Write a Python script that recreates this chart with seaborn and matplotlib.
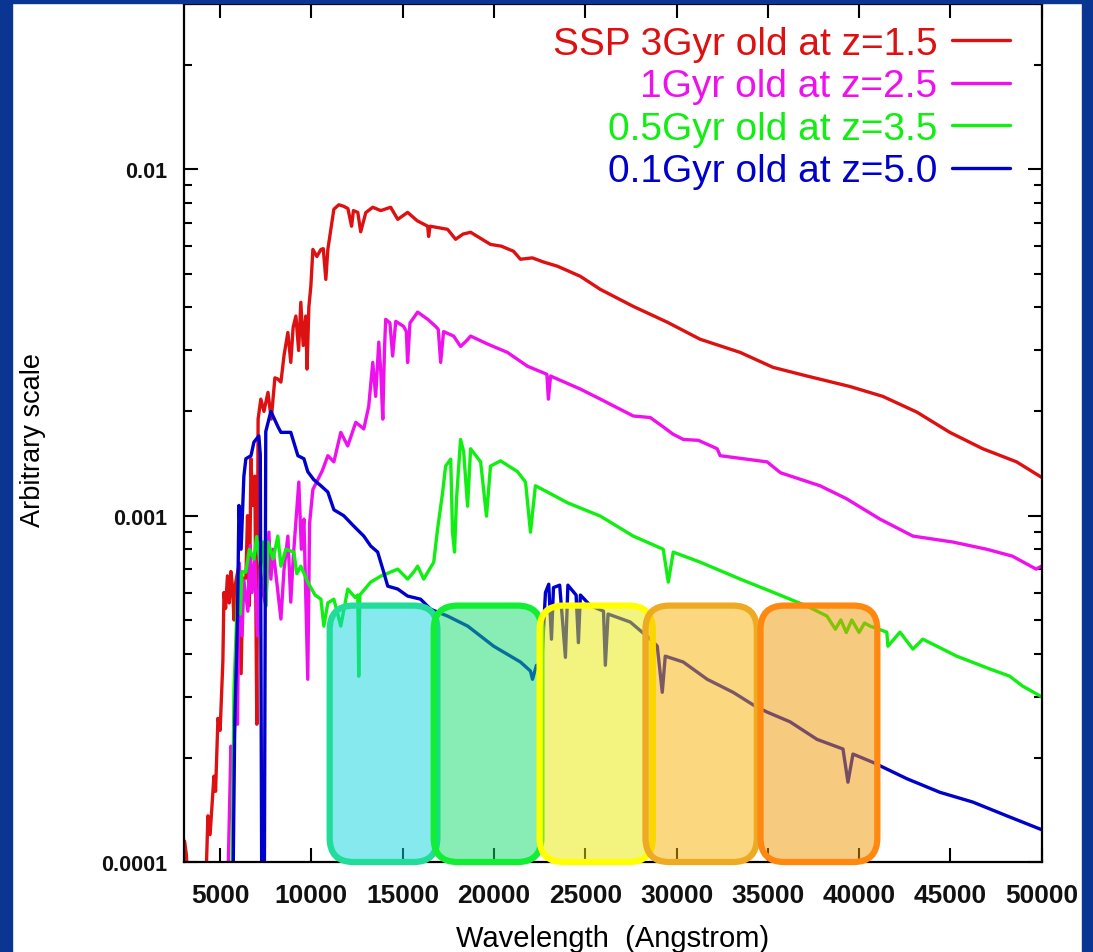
import numpy as np
import pandas as pd
import matplotlib
matplotlib.use("Agg")
import matplotlib.pyplot as plt
from matplotlib.patches import FancyBboxPatch, Rectangle
from matplotlib.ticker import FixedLocator, LogLocator, NullFormatter, NullLocator
from matplotlib.colors import to_rgba
import seaborn as sns

sns.set_theme(style="white")
plt.rcParams['font.family'] = ['Liberation Sans', 'DejaVu Sans']

# SSP 3Gyr old at z=1.5
red_wl = [3050, 3150, 3250, 3700, 4200, 4330, 4450, 4660, 4750, 4880, 5000, 5150, 5210, 5300, 5400,
          5500, 5590, 5680, 5760, 5850, 6030, 6150, 6250, 6410, 6500, 6600, 6690, 6780, 6900, 7010,
          7080, 7230, 7400, 7620, 7800, 8000, 8160, 8330, 8500, 8710, 8870, 9000, 9150, 9300, 9420,
          9550, 9690, 9760, 9860, 9970, 10080, 10300, 10520, 10650, 10790, 10900, 11230, 11500, 11770,
          12000, 12200, 12300, 12540, 12700, 12980, 13360, 13800, 14340, 14730, 15270, 15800, 16370,
          16420, 16500, 17460, 17900, 18300, 18720, 19810, 20400, 21070, 21450, 22100, 22710, 23480,
          24730, 25830, 27630, 29490, 31300, 33490, 35290, 37150, 39500, 41300, 43170, 44970, 46780,
          48630, 50000]
red_flux = [1.15e-4, 1.05e-4, 8e-5, 7e-5, 8e-5, 1.36e-4, 1.2e-4, 1.77e-4, 1.6e-4, 2.6e-4, 2.4e-4, 3.8e-4,
            6.0e-4, 5.4e-4, 6.7e-4, 5.6e-4, 6.9e-4, 6.2e-4, 5.0e-4, 6.4e-4, 7.2e-4, 3.5e-4, 6.6e-4,
            6.6e-4, 1.0e-3, 5.5e-4, 1.46e-3, 1.07e-3, 1.3e-3, 2.5e-4, 1.9e-3, 2.17e-3, 2.0e-3, 2.27e-3,
            1.9e-3, 2.5e-3, 2.48e-3, 2.43e-3, 2.9e-3, 3.38e-3, 2.77e-3, 3.5e-3, 3.77e-3, 3.0e-3, 4.13e-3,
            3.1e-3, 3.77e-3, 2.65e-3, 4.0e-3, 4.6e-3, 5.87e-3, 5.6e-3, 5.87e-3, 5.9e-3, 4.81e-3, 5.87e-3,
            7.67e-3, 7.9e-3, 7.82e-3, 7.7e-3, 6.85e-3, 7.6e-3, 7.51e-3, 6.6e-3, 7.5e-3, 7.77e-3, 7.6e-3,
            7.77e-3, 7.17e-3, 7.51e-3, 7.1e-3, 6.85e-3, 6.4e-3, 6.85e-3, 6.71e-3, 6.28e-3, 6.5e-3,
            6.58e-3, 6.07e-3, 6.0e-3, 5.80e-3, 5.50e-3, 5.55e-3, 5.40e-3, 5.25e-3, 4.91e-3, 4.50e-3,
            4.02e-3, 3.62e-3, 3.23e-3, 2.96e-3, 2.68e-3, 2.53e-3, 2.36e-3, 2.21e-3, 1.99e-3, 1.74e-3,
            1.56e-3, 1.43e-3, 1.29e-3]

# 1Gyr old at z=2.5
mag_wl = [5300, 5430, 5590, 5700, 5870, 5950, 6050, 6200, 6300, 6520, 6650, 6750, 6900, 7050, 7200,
          7350, 7500, 7670, 7780, 7900, 8330, 8500, 8710, 8870, 9000, 9310, 9450, 9590, 9800, 9900,
          10080, 10350, 10600, 10900, 11230, 11610, 11990, 12430, 12870, 13140, 13360, 13520, 13690,
          13800, 13910, 14000, 14070, 14300, 14450, 14620, 15050, 15200, 15270, 15400, 15820, 16370,
          16800, 16950, 17080, 17240, 17790, 18170, 18500, 18720, 19650, 20740, 21840, 22900, 22980,
          23100, 24730, 25830, 27630, 28560, 29300, 29800, 30370, 31200, 32230, 32390, 34960, 35700,
          37860, 39300, 41150, 42950, 45150, 46990, 48400, 49700, 50000]
mag_flux = [8e-5, 9e-5, 2.16e-4, 1.8e-4, 3.16e-4, 2.5e-4, 7.3e-4, 4.5e-4, 6.5e-4, 5.3e-4, 8.2e-4, 6.0e-4,
            7.5e-4, 4.5e-4, 7.0e-4, 6.0e-4, 5.5e-4, 8.96e-4, 6.56e-4, 8.0e-4, 5.03e-4, 7.0e-4, 8.73e-4,
            5.63e-4, 7.5e-4, 1.25e-3, 8.0e-4, 9.77e-4, 3.37e-4, 9.5e-4, 1.19e-3, 1.27e-3, 1.35e-3,
            1.49e-3, 1.43e-3, 1.74e-3, 1.59e-3, 1.86e-3, 1.78e-3, 2.07e-3, 2.77e-3, 2.21e-3, 3.17e-3,
            2.6e-3, 1.90e-3, 3.0e-3, 3.69e-3, 3.6e-3, 2.89e-3, 3.64e-3, 3.52e-3, 3.4e-3, 2.77e-3, 3.6e-3,
            3.87e-3, 3.69e-3, 3.52e-3, 3.45e-3, 2.77e-3, 3.40e-3, 3.30e-3, 3.08e-3, 3.2e-3, 3.30e-3,
            3.13e-3, 2.96e-3, 2.70e-3, 2.56e-3, 2.17e-3, 2.53e-3, 2.32e-3, 2.17e-3, 1.94e-3, 1.92e-3,
            1.80e-3, 1.72e-3, 1.66e-3, 1.65e-3, 1.56e-3, 1.49e-3, 1.43e-3, 1.33e-3, 1.22e-3, 1.12e-3,
            9.77e-4, 8.73e-4, 8.39e-4, 8.0e-4, 7.64e-4, 7.01e-4, 7.15e-4]

# 0.5Gyr old at z=3.5
grn_wl = [5650, 5760, 5900, 6000, 6100, 6200, 6410, 6600, 6850, 7000, 7200, 7350, 7510, 7620, 7900,
          8160, 8330, 8600, 9040, 9200, 9420, 9800, 10200, 10520, 10680, 10900, 11230, 11610, 11990,
          12400, 12540, 12593, 12650, 13250, 13800, 14730, 15270, 15600, 15820, 16150, 16700, 16910,
          17190, 17350, 17630, 17730, 17840, 17950, 18170, 18340, 18555, 18720, 19270, 19590, 19810,
          20360, 21290, 21730, 22000, 22270, 22930, 24020, 25830, 27630, 29270, 29550, 29820, 31300,
          33490, 35290, 37150, 38240, 38700, 39000, 39300, 39600, 40000, 40300, 40600, 41520, 41580,
          42240, 42950, 43490, 45350, 47160, 48250, 48960, 50000]
grn_flux = [9e-5, 3.16e-4, 5.0e-4, 6.9e-4, 5.2e-4, 6.9e-4, 6.87e-4, 8.0e-4, 7.49e-4, 8.7e-4, 7.2e-4,
            8.4e-4, 5.48e-4, 8.39e-4, 7.5e-4, 8.73e-4, 7.15e-4, 8.0e-4, 7.85e-4, 6.8e-4, 7.15e-4, 6.43e-4,
            5.9e-4, 5.74e-4, 4.80e-4, 5.6e-4, 5.74e-4, 4.80e-4, 6.14e-4, 5.8e-4, 5.9e-4, 3.44e-4, 5.9e-4,
            6.43e-4, 6.69e-4, 7.01e-4, 6.56e-4, 6.87e-4, 7.15e-4, 6.56e-4, 7.34e-4, 9.14e-4, 1.17e-3,
            1.39e-3, 1.456e-3, 8.96e-4, 7.85e-4, 1.12e-3, 1.66e-3, 1.53e-3, 1.065e-3, 1.56e-3, 1.43e-3,
            9.97e-4, 1.39e-3, 1.44e-3, 1.34e-3, 1.25e-3, 8.96e-4, 1.22e-3, 1.17e-3, 1.09e-3, 9.97e-4,
            8.73e-4, 8.0e-4, 6.43e-4, 7.85e-4, 7.34e-4, 6.56e-4, 6.01e-4, 5.48e-4, 5.13e-4, 4.7e-4,
            5.0e-4, 4.6e-4, 5.0e-4, 4.6e-4, 4.9e-4, 4.80e-4, 4.61e-4, 4.20e-4, 4.61e-4, 4.12e-4, 4.40e-4,
            3.93e-4, 3.61e-4, 3.44e-4, 3.22e-4, 3.0e-4]

# 0.1Gyr old at z=5.0
blu_wl = [5700, 5800, 5950, 6030, 6150, 6300, 6410, 6690, 6850, 7120, 7200, 7280, 7420, 7500, 7780,
          8160, 8330, 8870, 9260, 9590, 9800, 10130, 10520, 10900, 11230, 11770, 12320, 12870, 13250,
          13630, 13960, 14180, 14730, 15270, 15980, 16530, 17460, 18560, 19980, 21450, 22000, 22110,
          22330, 22600, 22820, 23000, 23150, 23260, 23600, 23914, 24050, 24500, 24625, 24734, 25281,
          26000, 26101, 26250, 27469, 28563, 28946, 29219, 29383, 30367, 31680, 33102, 34305, 34961,
          36219, 37696, 39118, 39391, 39665, 40758, 42618, 44423, 46228, 48087, 50000]
blu_flux = [8e-5, 2.5e-4, 5e-4, 1.07e-3, 8e-4, 1.30e-3, 1.46e-3, 1.49e-3, 1.63e-3, 1.70e-3, 1.5e-3, 8e-5,
            8e-5, 1.75e-3, 2.0e-3, 1.81e-3, 1.74e-3, 1.74e-3, 1.49e-3, 1.46e-3, 1.34e-3, 1.27e-3, 1.22e-3,
            1.17e-3, 1.04e-3, 1.0e-3, 9.33e-4, 8.73e-4, 8.17e-4, 7.85e-4, 6.87e-4, 6.26e-4, 6.14e-4,
            5.86e-4, 5.74e-4, 5.37e-4, 5.13e-4, 4.80e-4, 4.20e-4, 3.78e-4, 3.56e-4, 3.37e-4, 3.70e-4,
            3.6e-4, 6.0e-4, 6.34e-4, 4.4e-4, 6.2e-4, 6.3e-4, 3.9e-4, 6.3e-4, 5.9e-4, 4.3e-4, 5.9e-4,
            5.5e-4, 5.3e-4, 3.7e-4, 5.2e-4, 4.93e-4, 4.4e-4, 4.2e-4, 3.09e-4, 3.93e-4, 3.78e-4, 3.37e-4,
            3.09e-4, 2.82e-4, 2.71e-4, 2.54e-4, 2.26e-4, 2.12e-4, 1.70e-4, 2.05e-4, 1.94e-4, 1.74e-4,
            1.59e-4, 1.49e-4, 1.36e-4, 1.24e-4]

series_names = ["SSP 3Gyr old at z=1.5", "1Gyr old at z=2.5", "0.5Gyr old at z=3.5", "0.1Gyr old at z=5.0"]
series_colors = ["#dd1111", "#ee11ee", "#11ee11", "#0000cc"]

# filter bands (Angstrom)
filter_lo = [11000, 16700, 22500, 28300, 34600]
filter_hi = [16900, 22600, 28700, 34400, 41000]
filter_bottom = 1e-4
filter_top = 5.5e-4
filter_fill = ["#0dd5dd", "#11dd6b", "#e9eb00", "#f9b100", "#f19900"]
filter_edge = ["#22dd99", "#11ee33", "#ffff00", "#eeaa22", "#ff8811"]

xtick_vals = [5000, 10000, 15000, 20000, 25000, 30000, 35000, 40000, 45000, 50000]
xtick_labels = [str(v) for v in xtick_vals]
ytick_vals = [1e-4, 1e-3, 1e-2]
ytick_labels = ["0.0001", "0.001", "0.01"]

narrow_font = ['Liberation Sans Narrow', 'Liberation Sans', 'DejaVu Sans']

fig = plt.figure(figsize=(10.93, 9.53), dpi=100, facecolor="white")
# slide border
slide_blue = "#0a3593"
fig.patches.append(Rectangle((0, 0), 0.011, 1, transform=fig.transFigure, color=slide_blue, zorder=0))
fig.patches.append(Rectangle((0.990, 0), 0.010, 1, transform=fig.transFigure, color=slide_blue, zorder=0))
fig.patches.append(Rectangle((0, 0.996), 1, 0.004, transform=fig.transFigure, color=slide_blue, zorder=0))

ax = fig.add_axes([0.168, 0.0944, 0.785, 0.9003])
ax.set_facecolor("white")
ax.set_yscale("log")

all_wl = [red_wl, mag_wl, grn_wl, blu_wl]
all_flux = [red_flux, mag_flux, grn_flux, blu_flux]
for name, wl, fl, col in zip(series_names, all_wl, all_flux, series_colors):
    df = pd.DataFrame({"wavelength": wl, "flux": fl})
    sns.lineplot(data=df, x="wavelength", y="flux", color=col, linewidth=2.4,
                 label=name, estimator=None, sort=False, ax=ax, zorder=2)

ax.set_xlim(3000, 50000)
ax.set_ylim(1e-4, 0.03)

ax.xaxis.set_major_locator(FixedLocator(xtick_vals))
ax.set_xticklabels(xtick_labels)
ax.xaxis.set_minor_locator(NullLocator())
ax.yaxis.set_major_locator(FixedLocator(ytick_vals))
ax.set_yticklabels(ytick_labels)
ax.yaxis.set_minor_locator(LogLocator(base=10, subs=range(2, 10)))
ax.yaxis.set_minor_formatter(NullFormatter())
ax.tick_params(which="both", direction="in", bottom=True, left=True, top=True, right=True,
               colors="black")
ax.tick_params(which="major", length=10, width=1.5)
ax.tick_params(which="minor", length=6, width=1.5)
ax.tick_params(axis="x", labelsize=19, pad=15)
ax.tick_params(axis="y", labelsize=15.5, pad=12)
for lab in ax.get_xticklabels():
    lab.set_fontfamily(narrow_font)
    lab.set_fontweight("bold")
    lab.set_color("#111111")
for lab in ax.get_yticklabels():
    lab.set_fontfamily(['Liberation Sans', 'DejaVu Sans'])
    lab.set_fontweight("bold")
    lab.set_color("#111111")
for s in ax.spines.values():
    s.set_visible(True)
    s.set_color("black")
    s.set_linewidth(1.6)

ax.set_xlabel("Wavelength  (Angstrom)", fontsize=21, color="black")
ax.xaxis.set_label_coords(0.5, -0.072)
ax.set_ylabel("Arbitrary scale", fontsize=19.5, color="black")
ax.yaxis.set_label_coords(-0.160, 0.493)

# filter boxes, rounded, drawn in axes coordinates
to_axes = ax.transData + ax.transAxes.inverted()
for lo, hi, fc, ec in zip(filter_lo, filter_hi, filter_fill, filter_edge):
    x0, y0 = to_axes.transform((lo, filter_bottom))
    x1, y1 = to_axes.transform((hi, filter_top))
    box = FancyBboxPatch((x0, y0), x1 - x0, y1 - y0,
                         boxstyle="round,pad=0,rounding_size=0.028",
                         transform=ax.transAxes, facecolor=to_rgba(fc, 0.5),
                         edgecolor=ec, linewidth=4.5, clip_on=False, zorder=3)
    ax.add_patch(box)

leg = ax.legend(loc="upper right", bbox_to_anchor=(0.963, 0.975), frameon=False,
                markerfirst=False, fontsize=28, handlelength=1.5, handletextpad=0.36,
                labelspacing=0.17, labelcolor="linecolor", borderaxespad=0, borderpad=0)

fig.savefig("out.png", dpi=100, facecolor=fig.get_facecolor())
